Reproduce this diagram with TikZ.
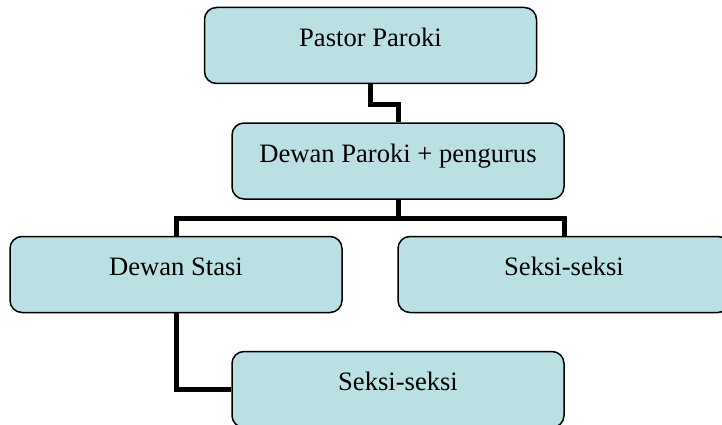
\documentclass[tikz,border=0pt]{standalone}
\usepackage{fontspec}
\setmainfont{Liberation Serif}
\definecolor{kotak}{RGB}{187,224,227}

\begin{document}
\begin{tikzpicture}[x=1pt, y=-1pt,
		kotak/.style={draw, fill=kotak, line width=1.5pt, rounded corners=12pt, minimum width=332pt, minimum height=76pt, text height=18pt, text depth=16pt, font=\fontsize{26.6pt}{30pt}\selectfont},
		garis/.style={line width=5pt}]
		\useasboundingbox (0,0) rectangle (722,425);
		\clip (0,0) rectangle (722,425);
		\node [kotak](Pastor)at (370.5,45.5) {Pastor Paroki};
		\node [kotak](DewanParoki)at (398,161) {Dewan Paroki + pengurus};
		\node [kotak](DewanStasi)at (176,274.5) {Dewan Stasi};
		\node [kotak](SeksiParoki)at (564,274.5) {Seksi-seksi};
		\node [kotak](SeksiStasi)at (398,389.5) {Seksi-seksi};
		\draw [garis](Pastor.south) -- ++(0,20) -| (DewanParoki.north);
		\draw [garis](DewanParoki.south) -- ++(0,19) -| (DewanStasi.north);
		\draw [garis](DewanParoki.south) -- ++(0,19) -| (SeksiParoki.north);
		\draw [garis](DewanStasi.south) |- (SeksiStasi.west);
	\end{tikzpicture}
\end{document}
